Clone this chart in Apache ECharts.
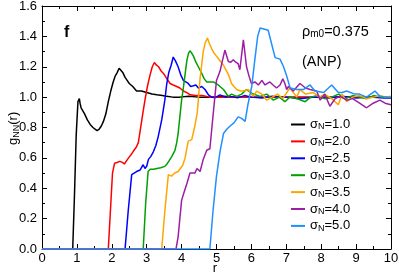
<!DOCTYPE html>
<html><head><meta charset="utf-8">
<script src="https://cdn.jsdelivr.net/npm/echarts@6/dist/echarts.min.js"></script>
<style>html,body{margin:0;padding:0;background:#fff}#c{width:399px;height:275px}</style>
</head><body><div id="c"></div>
<script>
const seriesNames = ['1.0','2.0','2.5','3.0','3.5','4.0','5.0'];
const seriesColors = ['#000000','#ff0000','#0000ff','#00a000','#ffa500','#9c1fa3','#1e90ff'];
const xTicks = [0,1,2,3,4,5,6,7,8,9,10];
const yTicks = [0.0,0.2,0.4,0.6,0.8,1.0,1.2,1.4,1.6];

const r1 = [0,0.88,0.93,0.98,1.03,1.07,1.09,1.12,1.16,1.22,1.3,1.38,1.46,1.52,1.58,1.64,1.7,1.76,1.83,1.9,1.97,2.04,2.1,2.15,2.21,2.26,2.32,2.38,2.44,2.5,2.6,2.71,2.85,3.0,3.15,3.29,3.45,3.57,3.75,3.95,4.2,4.5,4.8,5.2,5.6,6.0,6.5,7.0,7.5,8.0,8.5,9.0,9.5,10.0];
const g1 = [0,0,0.35,0.75,0.97,0.99,0.96,0.93,0.94,0.89,0.85,0.82,0.80,0.79,0.78,0.79,0.81,0.84,0.89,0.97,1.04,1.10,1.14,1.16,1.19,1.18,1.16,1.13,1.11,1.09,1.07,1.04,1.04,1.03,1.02,1.015,1.01,1.005,1.0,1.0,1.005,1.0,1.0,1.005,1.0,1.0,1.0,1.0,1.0,1.0,1.0,1.0,1.0,1.0];

const r2 = [0,1.9,1.96,2.02,2.08,2.15,2.23,2.3,2.36,2.42,2.48,2.55,2.62,2.7,2.76,2.82,2.88,2.95,3.02,3.1,3.16,3.22,3.28,3.34,3.42,3.5,3.58,3.67,3.76,3.86,3.95,4.05,4.15,4.25,4.4,4.6,4.8,5.0,5.5,6,7,8,9,10];
const g2 = [0,0,0.25,0.5,0.565,0.57,0.577,0.57,0.56,0.58,0.60,0.62,0.645,0.67,0.70,0.79,0.88,0.98,1.07,1.15,1.20,1.228,1.21,1.20,1.17,1.15,1.12,1.09,1.08,1.07,1.06,1.04,1.03,1.015,1.01,1.01,1.0,1.0,1.0,1.0,1.0,1.0,1.0,1.0];

const r3 = [0,2.38,2.47,2.57,2.64,2.71,2.76,2.81,2.86,2.9,2.95,3.0,3.05,3.12,3.19,3.26,3.33,3.43,3.52,3.57,3.63,3.7,3.76,3.82,3.9,3.97,4.05,4.12,4.19,4.26,4.34,4.41,4.48,4.58,4.67,4.77,4.86,4.95,5.1,5.25,5.4,5.6,5.8,6.0,6.3,6.6,7,7.4,7.8,8.2,8.6,9.0,9.4,9.8,10];
const g3 = [0,0,0.25,0.49,0.50,0.51,0.50,0.52,0.54,0.555,0.53,0.545,0.59,0.61,0.64,0.68,0.74,0.85,0.98,1.08,1.16,1.21,1.264,1.24,1.20,1.15,1.11,1.10,1.09,1.07,1.075,1.08,1.06,1.07,1.05,1.015,1.0,0.995,1.015,1.0,1.005,0.995,1.01,1.0,0.995,1.005,1.0,0.99,1.0,0.995,1.005,0.995,1.0,0.995,0.995];

const r4 = [0,2.9,2.97,3.04,3.1,3.2,3.29,3.4,3.52,3.58,3.64,3.72,3.81,3.86,3.9,3.95,4.0,4.05,4.1,4.15,4.2,4.24,4.29,4.34,4.41,4.48,4.57,4.65,4.72,4.82,4.91,5.05,5.2,5.34,5.43,5.58,5.72,5.86,6.05,6.25,6.44,6.63,6.8,6.96,7.1,7.3,7.54,7.7,7.9,8.1,8.3,8.5,8.7,8.9,9.1,9.3,9.5,9.7,9.9,10];
const g4 = [0,0,0.3,0.51,0.525,0.525,0.53,0.535,0.544,0.56,0.58,0.61,0.65,0.70,0.76,0.87,0.98,1.06,1.15,1.24,1.29,1.305,1.29,1.27,1.23,1.20,1.16,1.12,1.10,1.10,1.10,1.08,1.05,1.005,1.02,1.005,1.02,1.05,1.02,1.005,1.02,0.98,1.0,0.97,1.0,0.99,0.97,1.0,1.01,0.99,1.0,1.02,0.99,1.01,1.0,0.99,1.01,1.0,1.0,1.0];

const r5 = [0,3.43,3.52,3.62,3.71,3.8,3.9,3.95,4.03,4.1,4.19,4.29,4.38,4.45,4.53,4.62,4.68,4.74,4.8,4.86,4.93,5.0,5.1,5.2,5.27,5.34,5.43,5.5,5.58,5.68,5.77,5.91,6.05,6.15,6.3,6.44,6.6,6.75,6.9,7.1,7.2,7.3,7.39,7.55,7.78,7.95,8.1,8.3,8.49,8.6,8.73,8.9,9.1,9.3,9.5,9.7,9.85,10];
const g5 = [0,0,0.25,0.49,0.48,0.50,0.51,0.52,0.55,0.60,0.71,0.72,0.81,0.90,1.125,1.30,1.36,1.389,1.35,1.32,1.29,1.27,1.24,1.21,1.18,1.15,1.09,1.07,1.05,1.04,1.04,1.05,1.005,1.04,1.02,0.98,1.0,1.02,0.99,1.06,1.03,1.0,1.05,1.02,1.03,1.0,1.02,0.99,0.95,1.02,0.97,1.0,1.01,0.99,1.0,1.01,1.0,1.005];

const r6 = [0,3.84,3.9,4.0,4.08,4.15,4.24,4.31,4.38,4.44,4.48,4.53,4.62,4.72,4.81,4.86,4.91,5.0,5.1,5.17,5.24,5.34,5.41,5.48,5.55,5.62,5.67,5.72,5.77,5.86,5.93,6.0,6.1,6.2,6.3,6.39,6.46,6.53,6.62,6.72,6.82,6.9,6.96,7.01,7.06,7.2,7.39,7.55,7.68,7.87,7.97,8.1,8.25,8.4,8.54,8.73,8.9,9.1,9.3,9.49,9.68,9.83,10];
const g6 = [0,0,0.08,0.32,0.38,0.43,0.50,0.50,0.50,0.53,0.52,0.51,0.59,0.65,0.66,0.78,0.90,1.11,1.17,1.24,1.31,1.235,1.23,1.246,1.23,1.22,1.18,1.28,1.378,1.20,1.14,1.09,1.10,1.08,1.11,1.08,1.09,1.10,1.08,1.06,1.08,1.12,1.09,1.05,1.07,1.04,1.09,1.06,1.05,1.04,0.98,1.02,0.94,0.99,1.005,0.98,0.99,0.96,0.93,0.96,0.98,0.96,0.95];

const r7 = [0,4.81,4.9,5.0,5.1,5.2,5.3,5.39,5.5,5.62,5.72,5.82,5.9,6.01,6.1,6.18,6.25,6.48,6.58,6.68,6.82,6.92,7.01,7.11,7.3,7.39,7.49,7.68,7.82,7.87,8.07,8.3,8.49,8.6,8.73,8.96,9.1,9.3,9.54,9.68,9.85,10];
const g7 = [0,0,0.25,0.48,0.64,0.76,0.79,0.81,0.83,0.87,0.86,0.84,0.95,1.07,1.25,1.40,1.455,1.44,1.35,1.26,1.25,1.20,1.14,1.06,1.05,1.05,1.05,1.08,1.04,1.04,1.03,1.08,1.03,1.03,1.04,1.02,1.02,1.0,1.04,1.005,1.0,1.0];

const rs = [r1,r2,r3,r4,r5,r6,r7];
const gs = [g1,g2,g3,g4,g5,g6,g7];

const FONT = '"Liberation Sans", Arial, sans-serif';
const chart = echarts.init(document.getElementById('c'), null, {renderer:'canvas'});

const series = seriesNames.map((n,i)=>({
  name:n, type:'line', showSymbol:false, symbol:'none',
  data: rs[i].map((x,k)=>[x, gs[i][k]]),
  lineStyle:{color:seriesColors[i], width:1.5},
  itemStyle:{color:seriesColors[i]},
  xAxisIndex:0, yAxisIndex:0, z:2+i
}));

const axisCommon = {
  axisLine:{show:true, onZero:false, lineStyle:{color:'#000', width:1}},
  axisTick:{show:true, inside:true, length:5, lineStyle:{color:'#000'}},
  minorTick:{show:true, splitNumber:2, length:3, lineStyle:{color:'#000'}},
  splitLine:{show:false}
};

chart.setOption({
  animation:false,
  backgroundColor:'#fff',
  grid:{left:42, right:8, top:6, bottom:26, containLabel:false, outerBoundsMode:'none'},
  xAxis:[
    Object.assign({type:'value', min:0, max:10, interval:1, position:'bottom',
      axisLabel:{color:'#000', fontSize:13, fontFamily:FONT, margin:3,
        formatter:v=>xTicks.includes(v)?String(v):''}}, axisCommon),
    Object.assign({type:'value', min:0, max:10, interval:1, position:'top', axisLabel:{show:false}}, axisCommon)
  ],
  yAxis:[
    Object.assign({type:'value', min:0, max:1.6, interval:0.2, position:'left',
      axisLabel:{color:'#000', fontSize:13, fontFamily:FONT, margin:5,
        formatter:v=>{const t=yTicks.find(y=>Math.abs(y-v)<1e-6);return t===undefined?'':t.toFixed(1);}}}, axisCommon),
    Object.assign({type:'value', min:0, max:1.6, interval:0.2, position:'right', axisLabel:{show:false}}, axisCommon)
  ],
  legend:{
    orient:'vertical', left:291, top:118, padding:0, itemGap:3.4,
    itemWidth:14, itemHeight:2, icon:'rect',
    data:seriesNames,
    formatter:n=>'{a|σ}{s|N}{a|='+n+'}',
    textStyle:{color:'#000', fontFamily:FONT, fontSize:13,
      rich:{a:{fontSize:13, fontFamily:FONT, color:'#000', lineHeight:14},
            s:{fontSize:9, fontFamily:FONT, color:'#000', lineHeight:8, verticalAlign:'bottom'}}}
  },
  graphic:[
    {type:'text', left:64, top:25, style:{text:'f', font:'bold 16px '+FONT, fill:'#000'}},
    {type:'text', left:302, top:24, style:{text:'{a|ρ}{s|m0}{a|=0.375}', fill:'#000',
      rich:{a:{fontSize:14.5, fontFamily:FONT, lineHeight:16}, s:{fontSize:10, fontFamily:FONT, lineHeight:9, verticalAlign:'bottom'}}}},
    {type:'text', left:302, top:54, style:{text:'(ANP)', font:'14.5px '+FONT, fill:'#000'}},
    {type:'text', x:215, y:268, style:{text:'r', font:'13px '+FONT, fill:'#000', align:'center', verticalAlign:'middle'}},
    {type:'text', x:6, y:145, rotation:Math.PI/2, style:{text:'{a|g}{s|NN}{a|(r)}', fill:'#000',
      rich:{a:{fontSize:13, fontFamily:FONT, lineHeight:15}, s:{fontSize:9, fontFamily:FONT, lineHeight:8, verticalAlign:'bottom'}}}}
  ],
  series:series
});
</script></body></html>
